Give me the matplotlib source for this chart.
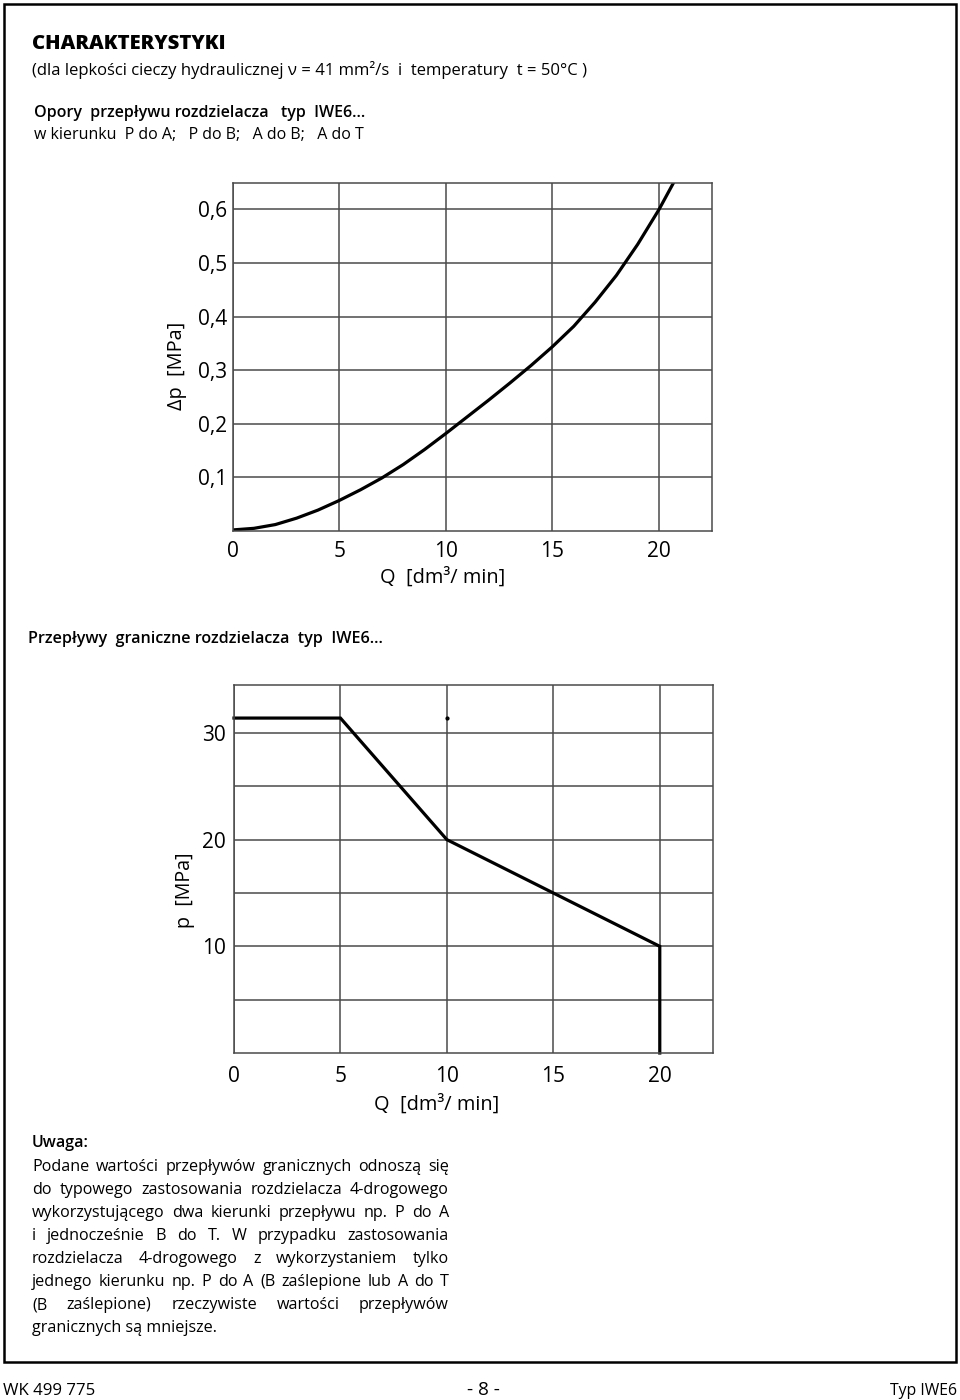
import matplotlib
matplotlib.use('Agg')
import matplotlib.pyplot as plt
from matplotlib.patches import Rectangle

plt.rcParams['font.family'] = ['Open Sans', 'DejaVu Sans']

# ---------------- data ----------------
# Chart 1: flow resistance  dp = f(Q)
q_flow = [0, 1, 2, 3, 4, 5, 6, 7, 8, 9, 10, 11, 12, 13, 14, 15,
          16, 17, 18, 19, 20, 20.71]
dp_flow = [0.002, 0.005, 0.012, 0.024, 0.039, 0.057, 0.077, 0.099, 0.124,
           0.152, 0.182, 0.213, 0.244, 0.276, 0.309, 0.344, 0.382, 0.427,
           0.477, 0.535, 0.6, 0.652]
dp_ticks = [0.1, 0.2, 0.3, 0.4, 0.5, 0.6]
dp_ticklabels = ['0,1', '0,2', '0,3', '0,4', '0,5', '0,6']
q_ticks = [0, 5, 10, 15, 20]
q_ticklabels = ['0', '5', '10', '15', '20']

# Chart 2: limit flows  p = f(Q)
q_limit = [0, 5, 10, 15, 20, 20]
p_limit = [31.4, 31.4, 20, 15, 10, 0]
dot_q, dot_p = [10], [31.4]
p_ticks = [5, 10, 15, 20, 25, 30]
p_ticklabels = ['', '10', '', '20', '', '30']

W, H = 960, 1400
fig = plt.figure(figsize=(W / 100, H / 100), dpi=100)
fig.patch.set_facecolor('white')
renderer = fig.canvas.get_renderer()

GRID = '#4a4a4a'


def px_axes(l, t, r, b):
    return fig.add_axes([l / W, 1 - b / H, (r - l) / W, (b - t) / H])


def style(ax):
    for s in ax.spines.values():
        s.set_color(GRID)
        s.set_linewidth(1.1)
    ax.grid(True, color=GRID, linewidth=1.1)
    ax.tick_params(length=0, labelsize=15, colors='black')
    ax.set_facecolor('white')


def txt(x, y, s, width=None, height=None, ha='left', va='baseline', **kw):
    t = fig.text(x / W, 1 - y / H, s, ha=ha, va=va, **kw)
    if width is not None:
        w = t.get_window_extent(renderer).width
        t.set_fontsize(t.get_fontsize() * width / w)
    if height is not None:
        h = t.get_window_extent(renderer).height
        t.set_fontsize(t.get_fontsize() * height / h)
    return t


def justify(line, x0, x1, y, size, **kw):
    words = line.split()
    ts = [fig.text(0, 1 - y / H, w, ha='left', va='baseline', fontsize=size, **kw)
          for w in words]
    ws = [t.get_window_extent(renderer).width for t in ts]
    gap = (x1 - x0 - sum(ws)) / (len(ws) - 1)
    x = x0
    for t, w in zip(ts, ws):
        t.set_x(x / W)
        x += w + gap


# ---------------- chart 1 ----------------
ax1 = px_axes(232.7, 182.7, 712.3, 531)
style(ax1)
ax1.plot(q_flow, dp_flow, color='black', linewidth=2.3, solid_capstyle='butt',
         solid_joinstyle='round', clip_on=True)
ax1.set_xlim(0, 22.5)
ax1.set_ylim(0, 0.65)
ax1.set_xticks(q_ticks)
ax1.set_xticklabels(q_ticklabels)
ax1.set_yticks(dp_ticks)
ax1.set_yticklabels(dp_ticklabels)
ax1.tick_params(axis='x', pad=7)
ax1.tick_params(axis='y', pad=4)

# ---------------- chart 2 ----------------
ax2 = px_axes(234, 685, 713, 1053)
style(ax2)
ax2.plot(q_limit, p_limit, color='black', linewidth=2.3, solid_joinstyle='miter',
         clip_on=False)
ax2.plot(dot_q, dot_p, 'o', color='black', markersize=2)
ax2.set_xlim(0, 22.5)
ax2.set_ylim(0, 34.5)
ax2.set_xticks(q_ticks)
ax2.set_xticklabels(q_ticklabels)
ax2.set_yticks(p_ticks)
ax2.set_yticklabels(p_ticklabels)
ax2.tick_params(axis='x', pad=9)
ax2.tick_params(axis='y', pad=6)

# axis labels
txt(443, 578, 'Q  [dm³/ min]', width=126, ha='center', va='center', fontsize=14)
txt(177, 366, 'Δp  [MPa]', height=88, ha='center', va='center', rotation=90, fontsize=14)
txt(437, 1105, 'Q  [dm³/ min]', width=126, va='center', ha='center', fontsize=14)
txt(185, 890, 'p  [MPa]', height=76, ha='center', va='center', rotation=90, fontsize=14)

# ---------------- texts ----------------
txt(32, 49, 'CHARAKTERYSTYKI', width=194, fontsize=15, fontweight='heavy')
txt(32, 75, '(dla lepkości cieczy hydraulicznej ν = 41 mm²/s  i  temperatury  t = 50°C )',
    width=556, fontsize=11)
txt(34, 117, 'Opory  przepływu rozdzielacza   typ  IWE6...', fontsize=11.5,
    fontweight='semibold')
txt(34, 139, 'w kierunku  P do A;   P do B;   A do B;   A do T', fontsize=11.5)
txt(28, 643, 'Przepływy  graniczne rozdzielacza  typ  IWE6...', width=354,
    fontsize=11, fontweight='semibold')
txt(32, 1147, 'Uwaga:', fontsize=11.5, fontweight='semibold')

para = [
    'Podane wartości przepływów granicznych odnoszą się',
    'do typowego zastosowania rozdzielacza 4-drogowego',
    'wykorzystującego dwa kierunki przepływu np. P do A',
    'i jednocześnie B do T. W przypadku zastosowania',
    'rozdzielacza 4-drogowego z wykorzystaniem tylko',
    'jednego kierunku np. P do A (B zaślepione lub A do T',
    '(B zaślepione) rzeczywiste wartości przepływów',
]
probe = txt(0, 0, para[0], width=405, fontsize=11)
psize = probe.get_fontsize()
probe.remove()
for i, line in enumerate(para):
    justify(line, 32, 449, 1171 + 23 * i, psize)
txt(32, 1332, 'granicznych są mniejsze.', fontsize=psize)

# footer
txt(3, 1395, 'WK 499 775', width=92, fontsize=12)
txt(483, 1395, '- 8 -', width=33, ha='center', fontsize=12)
txt(957, 1395, 'Typ IWE6', width=67, ha='right', fontsize=12)

# page frame
fig.patches.append(Rectangle((4 / W, 1 - 1362 / H), 952 / W, 1358 / H,
                             transform=fig.transFigure, fill=False,
                             edgecolor='black', linewidth=1.8))

fig.savefig('out.png', dpi=100, facecolor='white')
